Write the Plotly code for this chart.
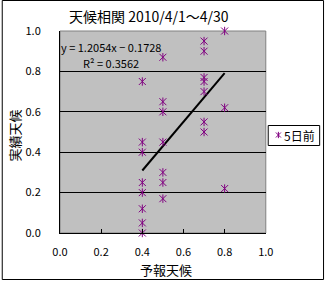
import plotly.graph_objects as go

# ---- data ----
x_forecast = [0.4, 0.4, 0.4, 0.4, 0.4, 0.4, 0.4, 0.4,
              0.5, 0.5, 0.5, 0.5, 0.5, 0.5, 0.5,
              0.7, 0.7, 0.7, 0.7, 0.7, 0.7, 0.7,
              0.8, 0.8, 0.8]
y_actual = [0.75, 0.45, 0.40, 0.25, 0.20, 0.12, 0.05, 0.00,
            0.87, 0.65, 0.60, 0.45, 0.30, 0.25, 0.17,
            0.95, 0.90, 0.77, 0.75, 0.70, 0.55, 0.50,
            1.00, 0.62, 0.22]
trend_slope = 1.2054
trend_intercept = -0.1728
trend_r2 = 0.3562
series_name = "5日前"
title_text = "天候相関 2010/4/1～4/30"
x_title = "予報天候"
y_title = "実績天候"
tick_vals = [0.0, 0.2, 0.4, 0.6, 0.8, 1.0]
grid_vals = [0.2, 0.4, 0.6, 0.8]

# ---- geometry (pixels) ----
W, H = 333, 281
ML, MR, MT, MB = 60, 0, 31, 48
PW = W - ML - MR
PH = H - MT - MB
PLOT_RIGHT = 272


def px_x(p):
    return (p - ML) / PW


def px_y(p):
    return (H - MB - p) / PH


FONT = "Noto Sans CJK JP, Noto Sans, sans-serif"
PURPLE = "#800080"

fig = go.Figure()

# trendline
tx = [min(x_forecast), max(x_forecast)]
ty = [trend_slope * v + trend_intercept for v in tx]
fig.add_trace(go.Scatter(x=tx, y=ty, mode="lines",
                         line=dict(color="black", width=2),
                         showlegend=False, hoverinfo="skip"))

# asterisk markers: X + vertical line
fig.add_trace(go.Scatter(x=x_forecast, y=y_actual, mode="markers",
                         marker=dict(symbol="x-thin-open", size=7, color=PURPLE,
                                     line=dict(color=PURPLE, width=1)),
                         cliponaxis=False, showlegend=False, name=series_name))
fig.add_trace(go.Scatter(x=x_forecast, y=y_actual, mode="markers",
                         marker=dict(symbol="line-ns-open", size=6, color=PURPLE,
                                     line=dict(color=PURPLE, width=1)),
                         cliponaxis=False, showlegend=False, name=series_name))

# legend sample marker on a hidden axis
for sym, sz in (("x-thin-open", 5), ("line-ns-open", 4.5)):
    fig.add_trace(go.Scatter(x=[0], y=[0], mode="markers", xaxis="x2", yaxis="y2",
                             marker=dict(symbol=sym, size=sz, color=PURPLE,
                                         line=dict(color=PURPLE, width=1)),
                             cliponaxis=False, showlegend=False, hoverinfo="skip"))

fig.update_layout(
    width=W, height=H,
    margin=dict(l=ML, r=MR, t=MT, b=MB, pad=0),
    paper_bgcolor="white",
    plot_bgcolor="#C0C0C0",
    showlegend=False,
    font=dict(family=FONT, size=11, color="black"),
    xaxis=dict(domain=[0, px_x(PLOT_RIGHT)], range=[0, 1], tickvals=tick_vals,
               tickformat=".1f", ticks="inside", ticklen=4, tickcolor="black",
               showline=True, linecolor="black", linewidth=1,
               showgrid=False, zeroline=False, ticklabelstandoff=9,
               tickfont=dict(size=11)),
    yaxis=dict(domain=[0, 1], range=[0, 1], tickvals=tick_vals, tickformat=".1f",
               ticks="", showline=True, linecolor="black", linewidth=1,
               showgrid=False, zeroline=False, ticklabelstandoff=16,
               tickfont=dict(size=11),
               minor=dict(tickvals=grid_vals, showgrid=True, gridcolor="black",
                          gridwidth=1, ticks="")),
    xaxis2=dict(domain=[px_x(280), px_x(290)], range=[-1, 1], visible=False,
                anchor="y2", fixedrange=True),
    yaxis2=dict(domain=[px_y(140), px_y(130)], range=[-1, 1], visible=False,
                anchor="x2", fixedrange=True),
    shapes=[
        # plot area border (top/right gray)
        dict(type="rect", xref="x domain", yref="y domain", x0=0, x1=1, y0=0, y1=1,
             line=dict(color="#808080", width=1), fillcolor="rgba(0,0,0,0)",
             layer="below"),
        # outer chart border
        dict(type="rect", xref="paper", yref="paper",
             x0=px_x(0.5), x1=px_x(331.5), y0=px_y(279.5), y1=px_y(0.5),
             line=dict(color="black", width=1), fillcolor="rgba(0,0,0,0)"),
        # legend box
        dict(type="rect", xref="paper", yref="paper",
             x0=px_x(274.5), x1=px_x(327.5), y0=px_y(145.5), y1=px_y(125.5),
             line=dict(color="black", width=1), fillcolor="white", layer="below"),
    ],
    annotations=[
        dict(text=title_text, xref="paper", yref="paper", x=px_x(152), y=px_y(16),
             xanchor="center", yanchor="middle", showarrow=False,
             font=dict(size=14)),
        dict(text=x_title, xref="paper", yref="paper", x=px_x(169), y=px_y(269),
             xanchor="center", yanchor="middle", showarrow=False,
             font=dict(size=13)),
        dict(text=y_title, xref="paper", yref="paper", x=px_x(13), y=px_y(135),
             xanchor="center", yanchor="middle", showarrow=False, textangle=-90,
             font=dict(size=13)),
        dict(text=f"y = {trend_slope:.4f}x − {abs(trend_intercept):.4f}",
             xref="paper", yref="paper", x=px_x(113), y=px_y(46.7),
             xanchor="center", yanchor="middle", showarrow=False,
             font=dict(size=11)),
        dict(text=f"R² = {trend_r2:.4f}",
             xref="paper", yref="paper", x=px_x(113), y=px_y(62.7),
             xanchor="center", yanchor="middle", showarrow=False,
             font=dict(size=11)),
        dict(text=series_name, xref="paper", yref="paper", x=px_x(288.5), y=px_y(135.5),
             xanchor="left", yanchor="middle", showarrow=False,
             font=dict(size=12)),
    ],
)

fig.write_html("out.html")
